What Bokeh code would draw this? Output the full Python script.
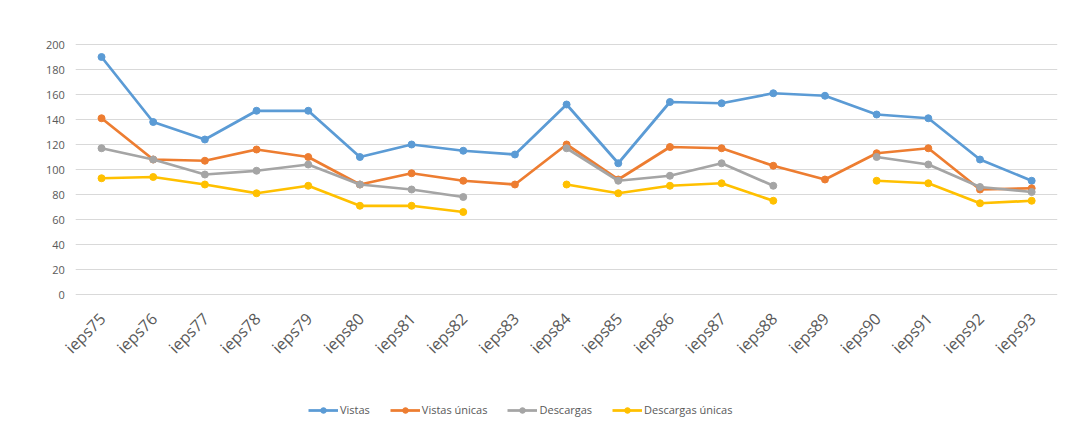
import math
from bokeh.plotting import figure
from bokeh.models import Range1d, Legend, LegendItem, ColumnDataSource
from bokeh.core.properties import value
from bokeh.embed import file_html
from bokeh.resources import INLINE

categories = ["ieps75", "ieps76", "ieps77", "ieps78", "ieps79", "ieps80", "ieps81",
              "ieps82", "ieps83", "ieps84", "ieps85", "ieps86", "ieps87", "ieps88",
              "ieps89", "ieps90", "ieps91", "ieps92", "ieps93"]
nan = float("nan")
vistas = [190, 138, 124, 147, 147, 110, 120, 115, 112, 152, 105, 154, 153, 161, 159, 144, 141, 108, 91]
vistas_unicas = [141, 108, 107, 116, 110, 88, 97, 91, 88, 120, 92, 118, 117, 103, 92, 113, 117, 84, 85]
descargas = [117, 108, 96, 99, 104, 88, 84, 78, nan, 117, 91, 95, 105, 87, nan, 110, 104, 86, 82]
descargas_unicas = [93, 94, 88, 81, 87, 71, 71, 66, nan, 88, 81, 87, 89, 75, nan, 91, 89, 73, 75]
series_names = ["Vistas", "Vistas únicas", "Descargas", "Descargas únicas"]
y_ticks = [0, 20, 40, 60, 80, 100, 120, 140, 160, 180, 200]

colors = ["#5B9BD5", "#ED7D31", "#A5A5A5", "#FFC000"]
FONT = "Open Sans"
TXT = "#595959"
GRID = "#D9D9D9"

n = len(categories)
# each category occupies one band; its point sits at the band centre
x_pos = [i + 0.5 for i in range(n)]

# x extended to the left to hold the value labels; y extended (1.25 px per unit)
# to hold the rotated category labels and the legend
p = figure(width=1078, height=428, x_range=Range1d(-0.72, n), y_range=Range1d(-107.2, 206.4),
           output_backend="svg", toolbar_location=None,
           min_border_left=38, min_border_right=21, min_border_top=36, min_border_bottom=0)
p.outline_line_color = None
p.background_fill_color = "white"
p.border_fill_color = "white"
p.xaxis.visible = False
p.yaxis.visible = False
p.xgrid.grid_line_color = None
p.ygrid.grid_line_color = None

# horizontal gridlines spanning the category bands only
p.segment(x0=[0] * len(y_ticks), x1=[n] * len(y_ticks), y0=y_ticks, y1=y_ticks,
          line_color=GRID, line_width=1)

# value labels on the left
ytl = ColumnDataSource(dict(x=[-0.21] * len(y_ticks), y=y_ticks, t=[str(v) for v in y_ticks]))
p.text("x", "y", text="t", source=ytl, text_align="right", text_baseline="middle",
       text_font=value(FONT), text_font_size="11px", text_color=TXT)

# category labels, rotated like the original
lab_src = ColumnDataSource(dict(x=x_pos, y=[-17] * n, t=categories))
p.text("x", "y", text="t", source=lab_src, angle=math.pi / 4, text_align="right",
       text_baseline="middle", text_font=value(FONT), text_font_size="16px",
       text_color=TXT, x_offset=1)

items = []
for name, vals, col in zip(series_names, [vistas, vistas_unicas, descargas, descargas_unicas], colors):
    src = ColumnDataSource(dict(x=x_pos, y=vals))
    l = p.line("x", "y", source=src, line_color=col, line_width=2.75)
    s = p.scatter("x", "y", source=src, size=7, fill_color=col, line_color=col)
    items.append(LegendItem(label=name, renderers=[l, s]))

legend = Legend(items=items, orientation="horizontal", location=(270, 11),
                label_text_font=FONT, label_text_font_size="11px", label_text_color=TXT,
                glyph_width=30, glyph_height=14, label_standoff=2, spacing=20,
                border_line_color=None, background_fill_alpha=0, padding=6, margin=0)
p.add_layout(legend, "center")

open("out.html", "w").write(file_html(p, INLINE))
